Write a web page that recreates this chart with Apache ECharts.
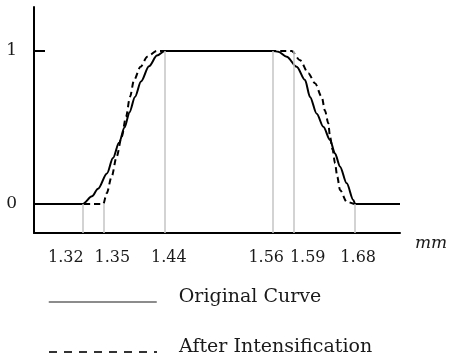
<!DOCTYPE html>
<html><head><meta charset="utf-8">
<script src="https://cdn.jsdelivr.net/npm/echarts@6/dist/echarts.min.js"></script>
<style>html,body{margin:0;padding:0;background:#fff}#c{width:449px;height:364px}</style>
</head><body><div id="c"></div>
<script>
// ---- data (mm on x, normalized height on y) ----
const tickMM     = [1.32, 1.35, 1.44, 1.56, 1.59, 1.68];
const tickLabels = ['1.32', '1.35', '1.44', '1.56', '1.59', '1.68'];
const guideTops  = [0, 0, 1, 1, 1, 0];
const yTicks     = [0, 1];
const xRange     = [1.2486, 1.7456];
const yRange     = [-0.1895, 1.2876];

const origX = [1.2486, 1.32, 1.3335, 1.3423, 1.3554, 1.3642, 1.373, 1.3811, 1.3884, 1.3964, 1.4052, 1.4169, 1.4286, 1.44,
               1.56, 1.5675, 1.5798, 1.5944, 1.6066, 1.6139, 1.6237, 1.6334, 1.6432, 1.6505, 1.6578, 1.6676, 1.6773, 1.68, 1.7456];
const origY = [0, 0, 0.05, 0.1, 0.2, 0.3, 0.4, 0.5, 0.6, 0.7, 0.8, 0.9, 0.97, 1,
               1, 0.995, 0.963, 0.897, 0.81, 0.70, 0.59, 0.505, 0.418, 0.33, 0.244, 0.135, 0.026, 0, 0];

const intX = [1.2486, 1.35, 1.355, 1.3623, 1.3696, 1.377, 1.3833, 1.3891, 1.395, 1.4045, 1.4144, 1.4282,
              1.5871, 1.5992, 1.6114, 1.6212, 1.6310, 1.6358, 1.6407, 1.6431, 1.6471, 1.6505, 1.6538, 1.6578, 1.6676, 1.68, 1.7456];
const intY = [0, 0, 0.07, 0.18, 0.31, 0.44, 0.57, 0.70, 0.81, 0.897, 0.963, 1,
              1, 0.94, 0.855, 0.79, 0.70, 0.61, 0.527, 0.44, 0.353, 0.266, 0.178, 0.092, 0.015, 0, 0];

const seriesNames = ['Original Curve', 'After Intensification'];

// the reference draws the flat top (1.44-1.56) wider than the flanks: stretch it on the axis
const GAP = 0.0387;
function warp(mm) { return mm > 1.5 ? mm + GAP : mm; }

const FONT = 'DejaVu Serif';
const labelShift = [-17, 9, 4, -7, 14, 3];
const rich = {};
labelShift.forEach((d, i) => {
  rich['t' + i] = {
    fontFamily: FONT, fontSize: 16, color: '#1a1a1a',
    padding: d >= 0 ? [0, 0, 0, 2 * d] : [0, -2 * d, 0, 0]
  };
});

const legendBase = {
  orient: 'vertical', left: 48, padding: 0,
  itemWidth: 108, itemHeight: 16,
  formatter: name => '{a|' + name + '}',
  textStyle: {
    fontFamily: FONT, fontSize: 19, color: '#1a1a1a', padding: [0, 0, 0, 17],
    rich: { a: { fontFamily: FONT, fontSize: 19, color: '#1a1a1a', padding: [0, 0, 9, 0] } }
  }
};

const chart = echarts.init(document.getElementById('c'));
chart.setOption({
  animation: false,
  backgroundColor: '#fff',
  grid: { left: 34, right: 49, top: 7, bottom: 131, containLabel: false, outerBoundsMode: 'none' },
  xAxis: {
    type: 'value',
    min: warp(xRange[0]), max: warp(xRange[1]),
    name: 'mm', nameLocation: 'end', nameGap: 15,
    nameTextStyle: { fontFamily: FONT, fontStyle: 'italic', fontSize: 17, color: '#1a1a1a', verticalAlign: 'top', padding: [2, 0, 0, 0] },
    axisLine: { onZero: false, lineStyle: { color: '#000', width: 2 } },
    axisTick: { show: false },
    splitLine: { show: false },
    axisLabel: {
      customValues: tickMM.map(warp),
      margin: 17,
      formatter: function (v) {
        let best = 0;
        tickMM.forEach((m, i) => { if (Math.abs(warp(m) - v) < Math.abs(warp(tickMM[best]) - v)) best = i; });
        return '{t' + best + '|' + tickLabels[best] + '}';
      },
      rich: rich
    }
  },
  yAxis: {
    type: 'value',
    min: yRange[0], max: yRange[1],
    axisLine: { show: true, onZero: false, lineStyle: { color: '#000', width: 2 } },
    axisTick: { show: true, inside: true, length: 11, customValues: yTicks, lineStyle: { color: '#000', width: 2 } },
    splitLine: { show: false },
    axisLabel: { customValues: yTicks, margin: 17, fontFamily: FONT, fontSize: 17, color: '#1a1a1a',
      formatter: v => String(Math.round(v)) }
  },
  legend: [
    Object.assign({}, legendBase, {
      top: 288,
      data: [{ name: seriesNames[0], itemStyle: { color: 'rgba(0,0,0,0)', borderWidth: 0 },
               lineStyle: { color: '#666', width: 1.5, type: 'solid' } }]
    }),
    Object.assign({}, legendBase, {
      top: 338,
      data: [{ name: seriesNames[1], itemStyle: { color: 'rgba(0,0,0,0)', borderWidth: 0 },
               lineStyle: { color: '#333', width: 2, type: [8, 7] } }]
    })
  ],
  series: [
    {
      name: 'guides', type: 'line', data: [], z: 1, silent: true,
      markLine: {
        silent: true, symbol: 'none', label: { show: false }, animation: false,
        lineStyle: { color: '#c4c4c4', width: 1.5, type: 'solid' },
        data: tickMM.map((m, i) => [
          { coord: [warp(m), guideTops[i]] },
          { coord: [warp(m), yRange[0]] }
        ])
      }
    },
    {
      name: seriesNames[0], type: 'line', z: 3, symbol: 'none', smooth: 0.3, smoothMonotone: 'x',
      lineStyle: { color: '#000', width: 2, type: 'solid' },
      data: origX.map((x, i) => [warp(x), origY[i]])
    },
    {
      name: seriesNames[1], type: 'line', z: 2, symbol: 'none', smooth: 0.3, smoothMonotone: 'x',
      lineStyle: { color: '#000', width: 2, type: [6, 4] },
      data: intX.map((x, i) => [warp(x), intY[i]])
    }
  ]
});
</script>
</body></html>
